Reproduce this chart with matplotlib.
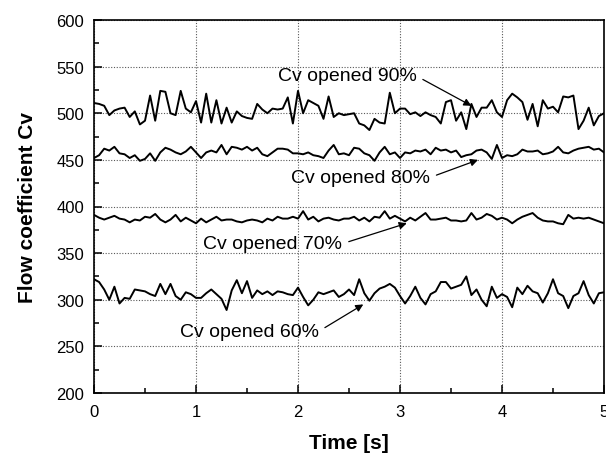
import numpy as np
import matplotlib.pyplot as plt
from matplotlib.ticker import MultipleLocator

plt.rcParams['font.family'] = ['Liberation Sans', 'DejaVu Sans']

# time axis, 0.05 s step
t = np.linspace(0, 5, 101)

cv90 = [511, 510, 508, 498, 503, 505, 506, 496, 502, 488, 492, 519, 492, 524, 523, 500, 498,
        524, 505, 501, 513, 490, 521, 490, 514, 489, 506, 490, 502, 497, 495, 494, 510, 504,
        500, 505, 504, 505, 517, 489, 524, 500, 514, 511, 508, 494, 518, 496, 500, 498, 499,
        500, 489, 487, 482, 494, 490, 489, 522, 500, 505, 505, 499, 501, 497, 501, 498,
        496, 489, 512, 514, 492, 501, 483, 510, 496, 506, 506, 514, 501, 496, 514, 521, 517,
        512, 493, 510, 486, 514, 505, 507, 501, 518, 517, 519, 483, 492, 506, 487, 497, 500]

cv80 = [452, 455, 462, 460, 464, 457, 456, 452, 455, 449, 451, 457, 449, 458, 463, 461, 458,
        456, 459, 464, 458, 452, 458, 460, 458, 466, 456, 464, 463, 461, 464, 460, 463, 456,
        454, 458, 462, 462, 461, 457, 457, 456, 458, 455, 454, 452, 460, 466, 456, 457, 455,
        463, 462, 457, 455, 449, 458, 464, 456, 458, 452, 458, 457, 460, 459, 461, 456,
        463, 460, 461, 458, 460, 453, 455, 456, 460, 461, 458, 451, 466, 452, 455, 454, 456,
        461, 459, 459, 460, 456, 457, 459, 464, 458, 457, 460, 462, 463, 464, 461, 462, 458]

cv70 = [391, 388, 386, 388, 390, 387, 386, 383, 386, 385, 389, 388, 392, 386, 383, 386, 391,
        384, 388, 385, 382, 387, 383, 386, 389, 385, 386, 386, 384, 383, 385, 386, 385, 383,
        387, 385, 389, 387, 387, 389, 387, 395, 386, 389, 384, 387, 388, 386, 385, 387, 387,
        389, 385, 388, 384, 389, 388, 395, 387, 390, 387, 384, 388, 385, 389, 393, 386,
        386, 387, 388, 385, 385, 384, 385, 393, 386, 388, 392, 390, 386, 388, 386, 382, 386,
        389, 391, 393, 388, 385, 384, 384, 382, 381, 391, 387, 388, 387, 388, 386, 384, 382]

cv60 = [322, 319, 311, 300, 314, 296, 302, 301, 311, 310, 309, 306, 304, 317, 306, 317, 304,
        300, 308, 306, 302, 302, 307, 311, 306, 301, 289, 310, 321, 307, 320, 302, 310, 306,
        309, 305, 309, 308, 306, 305, 313, 303, 294, 300, 308, 306, 308, 310, 303, 306, 311,
        305, 322, 307, 299, 307, 312, 314, 317, 313, 304, 296, 304, 314, 302, 295, 306,
        309, 319, 319, 312, 314, 316, 325, 305, 311, 300, 293, 314, 302, 306, 303, 292, 313,
        306, 315, 309, 307, 297, 307, 322, 307, 304, 291, 304, 307, 320, 305, 296, 307, 308]

labels = ['Cv opened 90%', 'Cv opened 80%', 'Cv opened 70%', 'Cv opened 60%']
text_xy = [(2.48, 540), (2.61, 431), (1.75, 360), (1.52, 266)]
arrow_xy = [(3.70, 508), (3.765, 450), (3.066, 382), (2.64, 295)]

fig = plt.figure(figsize=(6.06, 4.56), dpi=100)
ax = fig.add_axes([94/606, 62/456, 510/606, 373/456])

for y in (cv90, cv80, cv70, cv60):
    ax.plot(t, y, color='k', lw=1.4)

for lab, txy, axy in zip(labels, text_xy, arrow_xy):
    ax.annotate(lab, xy=axy, xytext=txy, ha='center', va='center', fontsize=14,
                arrowprops=dict(arrowstyle='-|>', color='k', lw=0.9, mutation_scale=11,
                                relpos=(1.0, 0.5), shrinkA=3, shrinkB=0))

ax.set_xlim(0, 5)
ax.set_ylim(200, 600)
ax.xaxis.set_major_locator(MultipleLocator(1))
ax.xaxis.set_minor_locator(MultipleLocator(0.5))
ax.yaxis.set_major_locator(MultipleLocator(50))
ax.yaxis.set_minor_locator(MultipleLocator(25))
ax.tick_params(which='both', direction='in', top=False, right=False, width=1.1)
ax.tick_params(which='major', length=6, labelsize=12)
ax.tick_params(axis='x', which='major', pad=8)
ax.tick_params(axis='y', which='major', pad=7)
ax.tick_params(which='minor', length=3.5)
ax.grid(True, which='major', color='0.35', ls=(0, (1, 1.5)), lw=0.8)
for s in ax.spines.values():
    s.set_linewidth(1.2)

ax.set_xlabel('Time [s]', fontsize=15, fontweight='bold', labelpad=10)
ax.set_ylabel('Flow coefficient Cv', fontsize=15, fontweight='bold', labelpad=14)

fig.savefig('out.png', dpi=100)
